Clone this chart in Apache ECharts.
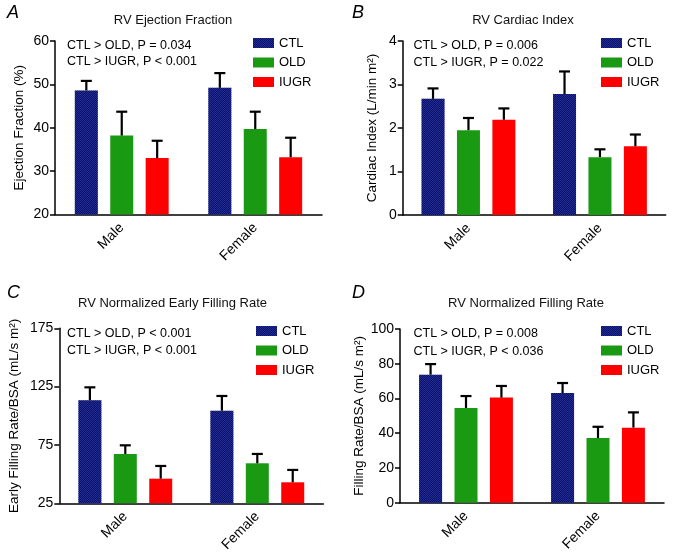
<!DOCTYPE html>
<html>
<head>
<meta charset="utf-8">
<script src="https://cdn.jsdelivr.net/npm/echarts@6/dist/echarts.min.js"></script>
<style>
html,body{margin:0;padding:0;background:#fff;}
#chart{width:685px;height:552px;}
</style>
</head>
<body>
<div id="chart"></div>
<script>
// ---- data ----
const categories = ['Male', 'Female'];
const groups = ['CTL', 'OLD', 'IUGR'];

// Panel A: RV Ejection Fraction (%)
const efCTL = [48.6, 49.2];
const efCTLsem = [2.2, 3.4];
const efOLD = [38.2, 39.7];
const efOLDsem = [5.5, 4.0];
const efIUGR = [33.0, 33.2];
const efIUGRsem = [4.0, 4.5];
const efTicks = [20, 30, 40, 50, 60];

// Panel B: RV Cardiac Index
const ciCTL = [2.67, 2.78];
const ciCTLsem = [0.24, 0.52];
const ciOLD = [1.95, 1.33];
const ciOLDsem = [0.28, 0.18];
const ciIUGR = [2.19, 1.58];
const ciIUGRsem = [0.26, 0.27];
const ciTicks = [0, 1, 2, 3, 4];

// Panel C: RV Normalized Early Filling Rate
const efrCTL = [113.3, 104.4];
const efrCTLsem = [11.1, 12.6];
const efrOLD = [67.3, 59.3];
const efrOLDsem = [7.4, 8.0];
const efrIUGR = [46.1, 43.0];
const efrIUGRsem = [10.9, 10.6];
const efrTicks = [25, 75, 125, 175];

// Panel D: RV Normalized Filling Rate
const frCTL = [73.7, 63.1];
const frCTLsem = [6.1, 5.8];
const frOLD = [54.5, 37.2];
const frOLDsem = [6.9, 6.5];
const frIUGR = [60.5, 43.2];
const frIUGRsem = [6.7, 8.8];
const frTicks = [0, 20, 40, 60, 80, 100];

const panelTitles = ['RV Ejection Fraction', 'RV Cardiac Index', 'RV Normalized Early Filling Rate', 'RV Normalized Filling Rate'];
const panelLetters = ['A', 'B', 'C', 'D'];
const yNames = ['Ejection Fraction (%)', 'Cardiac Index (L/min m\u00B2)', 'Early Filling Rate/BSA (mL/s m\u00B2)', 'Filling Rate/BSA (mL/s m\u00B2)'];
const statLines = [
  ['CTL > OLD, P = 0.034', 'CTL > IUGR, P < 0.001'],
  ['CTL > OLD, P = 0.006', 'CTL > IUGR, P = 0.022'],
  ['CTL > OLD, P < 0.001', 'CTL > IUGR, P < 0.001'],
  ['CTL > OLD, P = 0.008', 'CTL > IUGR, P < 0.036']
];

// ---- layout / style ----
const FONT = '"Liberation Sans", Arial, Helvetica, sans-serif';
const colors = { CTL: '#1f2a9c', OLD: '#1a9912', IUGR: '#ff0000' };
const BAR_W = 23;
const BAR_GAP = 0.54;
const SPACING = BAR_W * (1 + BAR_GAP);

const panels = [
  { means: [efCTL, efOLD, efIUGR], sems: [efCTLsem, efOLDsem, efIUGRsem], ticks: efTicks,
    grid: { left: 55, top: 41, width: 267, height: 173.5 }, nameGap: 29,
    titleX: 173, titleY: 20, letterX: 7, letterY: 13, statX: 67, statY: [45.5, 62],
    legend: { left: 253, top: 36.5 } },
  { means: [ciCTL, ciOLD, ciIUGR], sems: [ciCTLsem, ciOLDsem, ciIUGRsem], ticks: ciTicks,
    grid: { left: 402.7, top: 41, width: 263, height: 174 }, nameGap: 23,
    titleX: 523, titleY: 20, letterX: 352, letterY: 13, statX: 413.5, statY: [45.5, 62.5],
    legend: { left: 601, top: 36.5 } },
  { means: [efrCTL, efrOLD, efrIUGR], sems: [efrCTLsem, efrOLDsem, efrIUGRsem], ticks: efrTicks,
    grid: { left: 59.3, top: 328.3, width: 264, height: 175 }, nameGap: 38,
    titleX: 172.5, titleY: 303, letterX: 7, letterY: 293, statX: 67, statY: [333.5, 351],
    legend: { left: 256, top: 324.5 } },
  { means: [frCTL, frOLD, frIUGR], sems: [frCTLsem, frOLDsem, frIUGRsem], ticks: frTicks,
    grid: { left: 400, top: 329, width: 264, height: 173.7 }, nameGap: 34,
    titleX: 526, titleY: 303, letterX: 352, letterY: 293, statX: 413.5, statY: [334, 351.5],
    legend: { left: 601, top: 324.5 } }
];

const ctlDecal = {
  symbol: 'rect', symbolSize: 1, color: 'rgba(0,0,50,0.55)',
  dashArrayX: [[1, 1], [0, 1, 1, 0]], dashArrayY: [1, 0], rotation: 0
};

const grids = [], xAxes = [], yAxes = [], series = [], legends = [], graphics = [];

panels.forEach((p, pi) => {
  grids.push(Object.assign({ containLabel: false, outerBoundsMode: 'none' }, p.grid));
  xAxes.push({
    type: 'category', gridIndex: pi, data: categories, boundaryGap: true,
    axisLine: { lineStyle: { color: '#000', width: 1.5 } },
    axisTick: { alignWithLabel: true, length: 5, lineStyle: { color: '#000', width: 1.5 } },
    axisLabel: { rotate: 45, fontSize: 14, color: '#000', fontFamily: FONT, margin: 11 }
  });
  const t = p.ticks;
  yAxes.push({
    type: 'value', gridIndex: pi, min: t[0], max: t[t.length - 1], interval: t[1] - t[0],
    name: yNames[pi], nameLocation: 'middle', nameRotate: 90, nameGap: p.nameGap,
    nameTextStyle: { fontSize: 13.5, color: '#000', fontFamily: FONT },
    splitLine: { show: false },
    axisLine: { show: true, lineStyle: { color: '#000', width: 1.5 } },
    axisTick: { show: true, length: 5, lineStyle: { color: '#000', width: 1.5 } },
    axisLabel: { fontSize: 14, color: '#000', fontFamily: FONT, margin: 6 }
  });
  groups.forEach((g, gi) => {
    const itemStyle = { color: colors[g] };
    if (g === 'CTL') itemStyle.decal = ctlDecal;
    series.push({
      type: 'bar', name: g, xAxisIndex: pi, yAxisIndex: pi,
      data: p.means[gi], barWidth: BAR_W, barGap: (BAR_GAP * 100) + '%',
      itemStyle: itemStyle, emphasis: { disabled: true }, z: 2
    });
  });
  groups.forEach((g, gi) => {
    const offset = (gi - 1) * SPACING;
    series.push({
      type: 'custom', name: g, xAxisIndex: pi, yAxisIndex: pi, z: 3,
      data: categories.map((c, ci) => [ci, p.means[gi][ci], p.means[gi][ci] + p.sems[gi][ci]]),
      encode: { x: 0, y: [1, 2] },
      renderItem: function (params, api) {
        const base = api.coord([api.value(0), api.value(1)]);
        const top = api.coord([api.value(0), api.value(2)]);
        const x = base[0] + offset;
        const cap = 5.5;
        return {
          type: 'group',
          children: [
            { type: 'line', shape: { x1: x, y1: base[1], x2: x, y2: top[1] }, style: { stroke: '#000', lineWidth: 2.2 } },
            { type: 'line', shape: { x1: x - cap, y1: top[1], x2: x + cap, y2: top[1] }, style: { stroke: '#000', lineWidth: 2.2 } }
          ]
        };
      },
      tooltip: { show: false }
    });
  });
  legends.push({
    data: groups.map(g => ({ name: g, icon: 'rect' })),
    orient: 'vertical', left: p.legend.left, top: p.legend.top, padding: 0,
    itemWidth: 21, itemHeight: 10, itemGap: 6.5,
    textStyle: { fontSize: 13, color: '#000', fontFamily: FONT },
    selectedMode: false
  });
  graphics.push({
    type: 'text', x: p.titleX, y: p.titleY,
    style: { text: panelTitles[pi], font: '13px ' + FONT, fill: '#111', align: 'center', verticalAlign: 'middle' }
  });
  graphics.push({
    type: 'text', x: p.letterX, y: p.letterY,
    style: { text: panelLetters[pi], font: 'italic 18px ' + FONT, fill: '#000', align: 'left', verticalAlign: 'middle' }
  });
  statLines[pi].forEach((s, si) => {
    graphics.push({
      type: 'text', x: p.statX, y: p.statY[si],
      style: { text: s, font: '12.5px ' + FONT, fill: '#000', align: 'left', verticalAlign: 'middle' }
    });
  });
});

const chart = echarts.init(document.getElementById('chart'), null, { renderer: 'canvas' });
chart.setOption({
  animation: false,
  backgroundColor: '#fff',
  textStyle: { fontFamily: FONT },
  grid: grids, xAxis: xAxes, yAxis: yAxes, series: series, legend: legends, graphic: graphics
});
</script>
</body>
</html>
